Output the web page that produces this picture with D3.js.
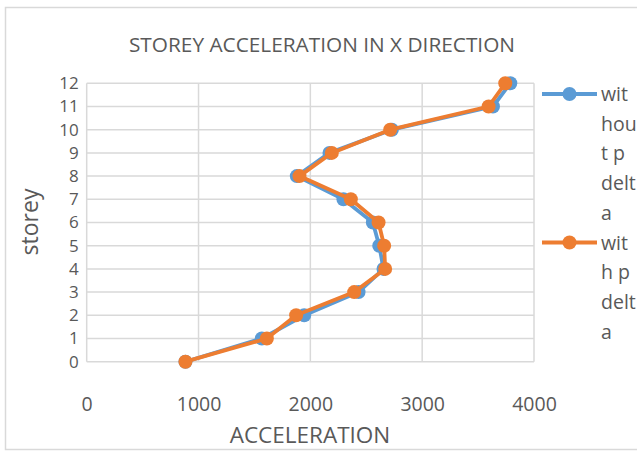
<!DOCTYPE html>
<html>
<head>
<meta charset="utf-8">
<script src="https://cdn.jsdelivr.net/npm/d3@7/dist/d3.min.js"></script>
<style>
  html, body { margin: 0; padding: 0; background: #fff; }
  svg { display: block; font-family: "Open Sans", sans-serif; }
</style>
</head>
<body>
<svg id="chart" width="637" height="453"></svg>
<script>
// Storey levels and peak floor acceleration per storey
const storeys = [0, 1, 2, 3, 4, 5, 6, 7, 8, 9, 10, 11, 12];
const withoutPDelta = [883, 1566, 1945, 2431, 2654, 2616, 2559, 2296, 1879, 2171, 2729, 3633, 3788];
const withPDelta    = [883, 1611, 1873, 2392, 2669, 2660, 2610, 2362, 1903, 2192, 2714, 3594, 3743];

const xTicks = [0, 1000, 2000, 3000, 4000];
const yTicks = [0, 1, 2, 3, 4, 5, 6, 7, 8, 9, 10, 11, 12];

const seriesNames = ["without p delta", "with p delta"];
const seriesColors = ["#5B9BD5", "#ED7D31"];
const legendLines = [["wit", "hou", "t p", "delt", "a"], ["wit", "h p", "delt", "a"]];

const svg = d3.select("#chart");
const textColor = "#595959";
const gridColor = "#d9d9d9";

// Outer chart frame
svg.append("rect")
  .attr("x", 5.5).attr("y", 7.5)
  .attr("width", 640).attr("height", 442)
  .attr("fill", "#fff").attr("stroke", gridColor).attr("stroke-width", 1.5);

const x = d3.scaleLinear().domain([0, 4000]).range([86.7, 534]);
const y = d3.scaleLinear().domain([0, 12]).range([361.7, 83.3]);

// Gridlines
const grid = svg.append("g");
grid.selectAll("line.v").data(xTicks).join("line")
  .attr("x1", d => x(d)).attr("x2", d => x(d))
  .attr("y1", y(0)).attr("y2", y(12))
  .attr("stroke", gridColor).attr("stroke-width", 1.5);
grid.selectAll("line.h").data(yTicks).join("line")
  .attr("x1", x(0)).attr("x2", x(4000))
  .attr("y1", d => y(d)).attr("y2", d => y(d))
  .attr("stroke", gridColor).attr("stroke-width", 1.5);

// Axes (labels only, no tick marks)
const xAxis = svg.append("g")
  .attr("transform", `translate(0,${y(0) + 35})`)
  .call(d3.axisBottom(x).tickValues(xTicks).tickSize(0).tickPadding(0).tickFormat(d3.format("d")));
xAxis.select(".domain").remove();
xAxis.selectAll("text").attr("fill", textColor).style("font-size", "19.5px")
  .style("font-family", "'Open Sans', sans-serif");

const yAxis = svg.append("g")
  .attr("transform", `translate(${x(0) - 8},0)`)
  .call(d3.axisLeft(y).tickValues(yTicks).tickSize(0).tickPadding(0).tickFormat(d3.format("d")));
yAxis.select(".domain").remove();
yAxis.selectAll("text").attr("fill", textColor).style("font-size", "17px")
  .style("font-family", "'Open Sans', sans-serif");

// Title and axis titles
svg.append("text")
  .attr("x", 322).attr("y", 52)
  .attr("text-anchor", "middle").attr("fill", textColor)
  .style("font-size", "20.8px")
  .text("STOREY ACCELERATION IN X DIRECTION");

svg.append("text")
  .attr("x", 310).attr("y", 443)
  .attr("text-anchor", "middle").attr("fill", textColor)
  .style("font-size", "22.5px")
  .text("ACCELERATION");

svg.append("text")
  .attr("transform", "translate(38,222) rotate(-90)")
  .attr("text-anchor", "middle").attr("fill", textColor)
  .style("font-size", "23px")
  .text("storey");

// Series
const series = [withoutPDelta, withPDelta];
const line = d3.line().x(d => x(d[0])).y(d => y(d[1]));

series.forEach((vals, i) => {
  const pts = vals.map((v, j) => [v, storeys[j]]);
  const g = svg.append("g");
  g.append("path")
    .attr("d", line(pts))
    .attr("fill", "none")
    .attr("stroke", seriesColors[i])
    .attr("stroke-width", 3.8)
    .attr("stroke-linejoin", "round");
  g.selectAll("circle").data(pts).join("circle")
    .attr("cx", d => x(d[0])).attr("cy", d => y(d[1]))
    .attr("r", 7)
    .attr("fill", seriesColors[i]);
});

// Legend (names wrapped into a narrow column)
const legend = svg.append("g");
const lineStep = 29.7;
let ly = 94;
seriesNames.forEach((name, i) => {
  const g = legend.append("g").attr("transform", `translate(0,${ly})`);
  g.append("line").attr("x1", 542).attr("x2", 597).attr("y1", 0).attr("y2", 0)
    .attr("stroke", seriesColors[i]).attr("stroke-width", 3.8);
  g.append("circle").attr("cx", 569.5).attr("cy", 0).attr("r", 7).attr("fill", seriesColors[i]);
  const t = g.append("text").attr("x", 601).attr("y", 0).attr("fill", textColor)
    .style("font-size", "19.5px");
  legendLines[i].forEach((s, k) => {
    t.append("tspan").attr("x", 601).attr("y", k * lineStep).attr("dy", "0.36em").text(s);
  });
  ly += legendLines[i].length * lineStep;
});
</script>
</body>
</html>
